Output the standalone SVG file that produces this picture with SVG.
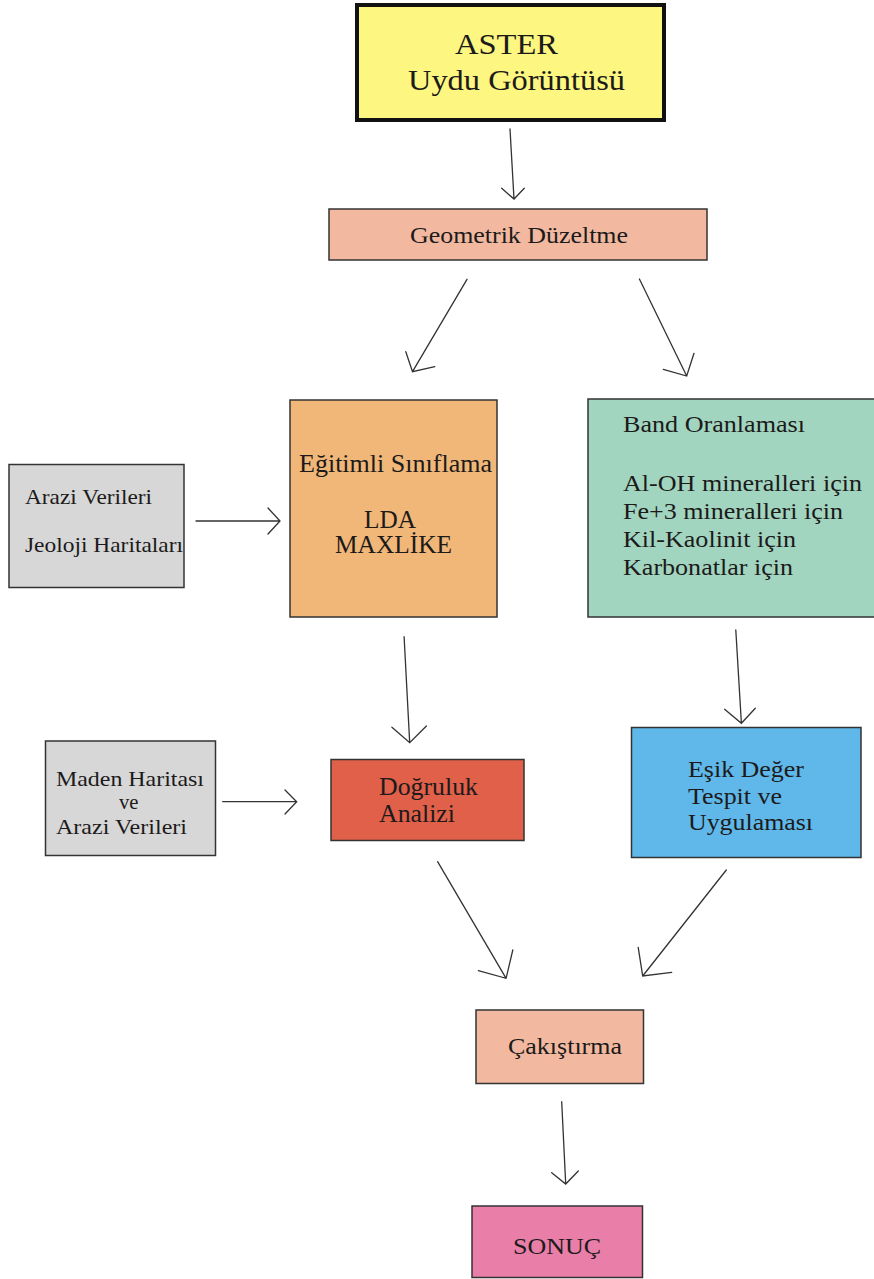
<svg xmlns="http://www.w3.org/2000/svg" width="874" height="1279" viewBox="0 0 874 1279">
<style>
.box{stroke:#333;stroke-width:1.5}
.t{font-family:"Liberation Serif","Times New Roman",serif;fill:#1c1a1a;lengthAdjust:spacingAndGlyphs}
.arrow{fill:none;stroke:#333;stroke-width:1.3;stroke-linecap:round;stroke-linejoin:miter}
</style>
<rect width="874" height="1279" fill="#ffffff"/>
<g id="aster">
<rect x="357" y="5" width="307" height="115" fill="#fdf680" stroke="#111" stroke-width="4"/>
<text class="t" x="455" y="54" font-size="30" textLength="103" lengthAdjust="spacingAndGlyphs">ASTER</text>
<text class="t" x="408" y="90" font-size="30" textLength="217" lengthAdjust="spacingAndGlyphs">Uydu Görüntüsü</text>
</g>
<g id="geometrik">
<rect class="box" x="329" y="209" width="378" height="51" fill="#f2b9a0"/>
<text class="t" x="410" y="243" font-size="23" textLength="218" lengthAdjust="spacingAndGlyphs">Geometrik Düzeltme</text>
</g>
<g id="egitimli">
<rect class="box" x="290" y="400" width="207" height="217" fill="#f1b778"/>
<text class="t" x="299" y="471.5" font-size="25" textLength="193" lengthAdjust="spacingAndGlyphs">Eğitimli Sınıflama</text>
<text class="t" x="364" y="528" font-size="25" textLength="52" lengthAdjust="spacingAndGlyphs">LDA</text>
<text class="t" x="335" y="553" font-size="25" textLength="117" lengthAdjust="spacingAndGlyphs">MAXLİKE</text>
</g>
<g id="band">
<rect class="box" x="588" y="399" width="290" height="218" fill="#a2d5c0"/>
<text class="t" x="623" y="432" font-size="24" textLength="182" lengthAdjust="spacingAndGlyphs">Band Oranlaması</text>
<text class="t" x="623" y="490.5" font-size="24" textLength="239" lengthAdjust="spacingAndGlyphs">Al-OH mineralleri için</text>
<text class="t" x="623" y="519" font-size="24" textLength="220" lengthAdjust="spacingAndGlyphs">Fe+3 mineralleri için</text>
<text class="t" x="623" y="546.5" font-size="24" textLength="173" lengthAdjust="spacingAndGlyphs">Kil-Kaolinit için</text>
<text class="t" x="623" y="575" font-size="24" textLength="170" lengthAdjust="spacingAndGlyphs">Karbonatlar için</text>
</g>
<g id="arazi">
<rect class="box" x="9" y="464.5" width="175" height="123" fill="#d7d7d7"/>
<text class="t" x="25" y="504" font-size="21" textLength="127" lengthAdjust="spacingAndGlyphs">Arazi Verileri</text>
<text class="t" x="25" y="552" font-size="21" textLength="158" lengthAdjust="spacingAndGlyphs">Jeoloji Haritaları</text>
</g>
<g id="maden">
<rect class="box" x="45.5" y="741" width="170" height="114.5" fill="#d7d7d7"/>
<text class="t" x="56" y="786" font-size="22" textLength="148" lengthAdjust="spacingAndGlyphs">Maden Haritası</text>
<text class="t" x="119" y="809" font-size="22" textLength="19.5" lengthAdjust="spacingAndGlyphs">ve</text>
<text class="t" x="56" y="834" font-size="22" textLength="131" lengthAdjust="spacingAndGlyphs">Arazi Verileri</text>
</g>
<g id="dogruluk">
<rect class="box" x="331" y="759.5" width="193" height="81" fill="#e0604a"/>
<text class="t" x="379" y="795" font-size="25" textLength="99" lengthAdjust="spacingAndGlyphs">Doğruluk</text>
<text class="t" x="379" y="822" font-size="25" textLength="76" lengthAdjust="spacingAndGlyphs">Analizi</text>
</g>
<g id="esik">
<rect class="box" x="631.5" y="727.5" width="229.5" height="130" fill="#5fb8e9"/>
<text class="t" x="688" y="777" font-size="24" textLength="116" lengthAdjust="spacingAndGlyphs">Eşik Değer</text>
<text class="t" x="688" y="803.5" font-size="24" textLength="94" lengthAdjust="spacingAndGlyphs">Tespit ve</text>
<text class="t" x="688" y="830" font-size="24" textLength="125" lengthAdjust="spacingAndGlyphs">Uygulaması</text>
</g>
<g id="cakistirma">
<rect class="box" x="476" y="1010" width="167.5" height="73.5" fill="#f2b9a0"/>
<text class="t" x="508" y="1054" font-size="24" textLength="114" lengthAdjust="spacingAndGlyphs">Çakıştırma</text>
</g>
<g id="sonuc">
<rect class="box" x="472" y="1206" width="170.5" height="71.5" fill="#e97ea9"/>
<text class="t" x="513" y="1254" font-size="24" textLength="88" lengthAdjust="spacingAndGlyphs">SONUÇ</text>
</g>
<g id="connectors">
<path class="arrow" d="M510,129 L514,199 M501.7,188.3 L514,199 L524.3,188.3"/>
<path class="arrow" d="M467,279.3 L412.5,371.7 M405.8,351.7 L412.5,371.7 L434.8,366.7"/>
<path class="arrow" d="M639.4,279 L686.7,376 M663.3,369.3 L686.7,376 L694,353.3"/>
<path class="arrow" d="M196,521 L280,521 M268,508 L280,521 L268,534"/>
<path class="arrow" d="M404.1,636.7 L409.7,742.7 M391.9,727.3 L409.7,742.7 L426.4,726"/>
<path class="arrow" d="M735.8,630 L741.4,723.3 M724.6,709.3 L741.4,723.3 L755.3,708.3"/>
<path class="arrow" d="M222.7,801.7 L296.7,801.7 M285,790 L296.7,801.7 L285,814"/>
<path class="arrow" d="M437.6,861.7 L506.1,978.3 M478.3,970.7 L506.1,978.3 L512.8,950"/>
<path class="arrow" d="M726.3,870 L642.7,976 M638.2,947.3 L642.7,976 L671.7,972.3"/>
<path class="arrow" d="M561.7,1101.7 L565.7,1184 M551.7,1172.7 L565.7,1184 L578.3,1171"/>
</g>
</svg>
